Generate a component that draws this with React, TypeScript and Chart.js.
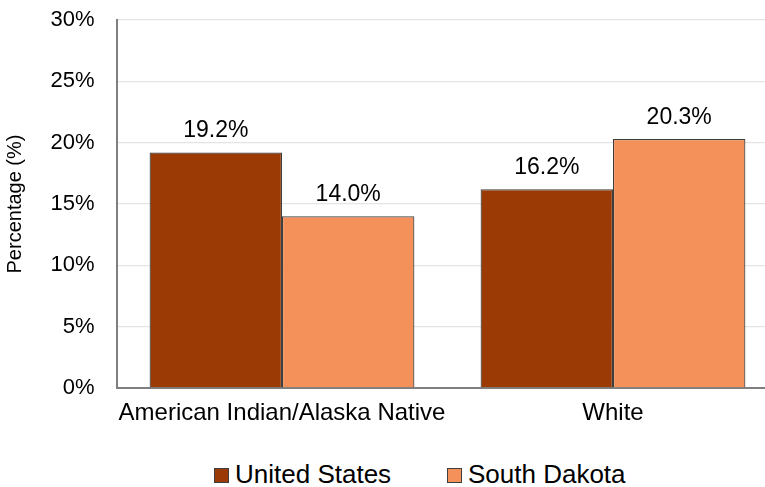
import React, { useEffect, useRef } from "react";
import { Chart, registerables } from "chart.js";

Chart.register(...registerables);

const categories = ["American Indian/Alaska Native", "White"];
const unitedStates = [19.2, 16.2];
const southDakota = [14.0, 20.3];
const seriesNames = ["United States", "South Dakota"];
const seriesColors = ["#9C3A06", "#F4905A"];
const yTicks = [0, 5, 10, 15, 20, 25, 30];

const FONT = "'Liberation Sans', Arial, sans-serif";
const BORDER = "#3f3f3f";

const valueLabels = {
  id: "valueLabels",
  afterDatasetsDraw(chart: any) {
    const { ctx } = chart;
    ctx.save();
    ctx.font = `23px ${FONT}`;
    ctx.fillStyle = "#000";
    ctx.textAlign = "center";
    ctx.textBaseline = "alphabetic";
    chart.data.datasets.forEach((ds: any, i: number) => {
      const meta = chart.getDatasetMeta(i);
      meta.data.forEach((bar: any, j: number) => {
        const v = ds.data[j] as number;
        ctx.fillText(`${v.toFixed(1)}%`, bar.x, bar.y - 15);
      });
    });
    ctx.restore();
  },
};

export default function App() {
  const ref = useRef<HTMLCanvasElement>(null);

  useEffect(() => {
    if (!ref.current) return;
    const chart = new Chart(ref.current, {
      type: "bar",
      data: {
        labels: categories,
        datasets: [
          {
            label: seriesNames[0],
            data: unitedStates,
            backgroundColor: seriesColors[0],
            borderColor: BORDER,
            borderWidth: 1.2,
          },
          {
            label: seriesNames[1],
            data: southDakota,
            backgroundColor: seriesColors[1],
            borderColor: BORDER,
            borderWidth: 1.2,
          },
        ],
      },
      options: {
        animation: false,
        responsive: false,
        maintainAspectRatio: false,
        layout: { padding: { left: 0, right: 21.5, top: 20, bottom: 0 } },
        datasets: { bar: { categoryPercentage: 0.8, barPercentage: 1 } },
        plugins: {
          legend: { display: false },
          tooltip: { enabled: false },
        },
        scales: {
          x: {
            grid: { drawOnChartArea: false, drawTicks: false },
            border: { display: true, color: "#7f7f7f", width: 2 },
            ticks: {
              color: "#000",
              font: { family: FONT, size: 24 },
              padding: 11,
              maxRotation: 0,
              autoSkip: false,
            },
            afterFit: (scale: any) => {
              scale.height = 62;
            },
          },
          y: {
            min: 0,
            max: 30,
            afterBuildTicks: (scale: any) => {
              scale.ticks = yTicks.map((value) => ({ value }));
            },
            grid: { color: "#e4e4e4", lineWidth: 1.3, drawTicks: false },
            border: { display: true, color: "#7f7f7f", width: 2 },
            ticks: {
              color: "#000",
              font: { family: FONT, size: 22 },
              padding: 22,
              callback: (v: any) => `${v}%`,
            },
            title: {
              display: true,
              text: "Percentage (%)",
              color: "#000",
              font: { family: FONT, size: 20 },
              padding: { top: 3, bottom: 0 },
            },
            afterFit: (scale: any) => {
              scale.width = 116.5;
              scale.paddingTop = 0;
              scale.paddingBottom = 0;
            },
          },
        },
      },
      plugins: [valueLabels],
    });
    return () => chart.destroy();
  }, []);

  const legendItem = (name: string, color: string, left: number) => (
    <div
      key={name}
      style={{
        position: "absolute",
        left,
        top: 462,
        display: "flex",
        alignItems: "flex-start",
        whiteSpace: "nowrap",
      }}
    >
      <span
        style={{
          display: "inline-block",
          width: 15,
          height: 15,
          marginTop: 6,
          boxSizing: "border-box",
          border: `1.5px solid ${BORDER}`,
          background: color,
        }}
      />
      <span
        style={{
          marginLeft: 6,
          fontFamily: FONT,
          fontSize: 26,
          lineHeight: "25px",
          color: "#000",
        }}
      >
        {name}
      </span>
    </div>
  );

  return (
    <div
      style={{
        position: "absolute",
        left: 0,
        top: 0,
        width: 765,
        height: 487,
        overflow: "hidden",
        background: "#fff",
      }}
    >
      <canvas
        ref={ref}
        width={800}
        height={450}
        style={{ position: "absolute", left: 0, top: 0, width: 800, height: 450 }}
      />
      {legendItem(seriesNames[0], seriesColors[0], 214)}
      {legendItem(seriesNames[1], seriesColors[1], 447)}
    </div>
  );
}
